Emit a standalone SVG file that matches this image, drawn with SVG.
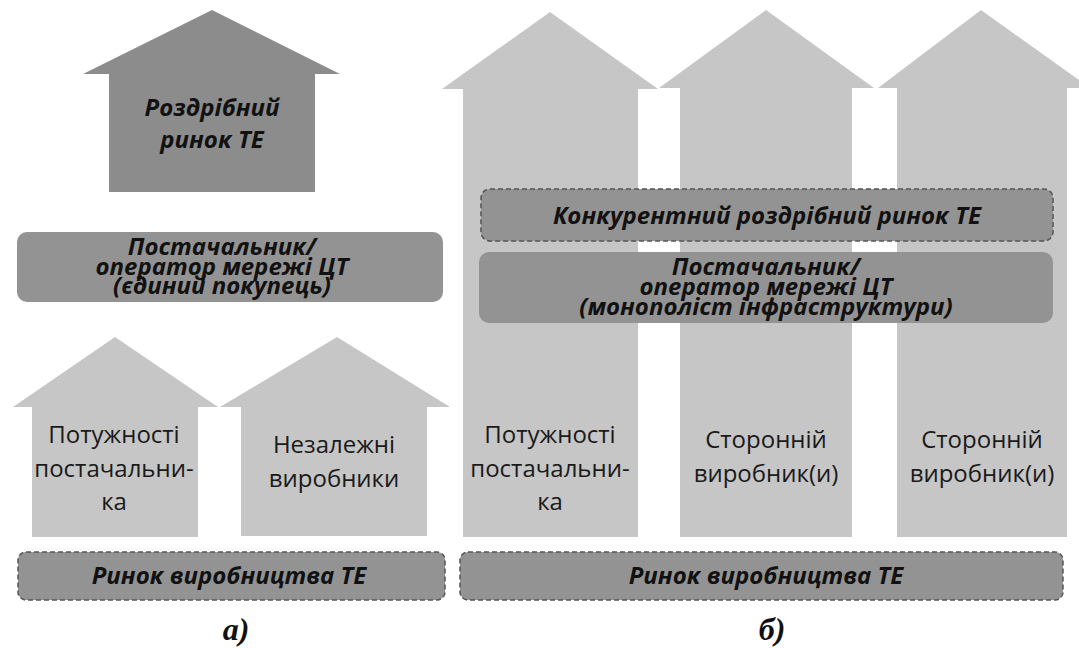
<svg xmlns="http://www.w3.org/2000/svg" width="1079" height="648" viewBox="0 0 1079 648">
<style>
.light{fill:#c6c6c6}
.dark{fill:#8c8c8c}
.box{fill:#939393}
.dbox{fill:#939393;stroke:#555;stroke-width:1.5;stroke-dasharray:5,3}
.bi{font-family:"Open Sans","Liberation Sans",sans-serif;font-weight:bold;font-style:italic;font-size:24px;fill:#111;text-anchor:middle}
.rg{font-family:"Open Sans","Liberation Sans",sans-serif;font-size:24px;fill:#1a1a1a;text-anchor:middle}
.lbl{font-family:"Liberation Serif",serif;font-weight:bold;font-style:italic;font-size:32px;fill:#111;text-anchor:middle}
</style>
<rect width="1079" height="648" fill="#fff"/>
<g id="retail-house-a">
<polygon class="dark" points="212,10 340,74 315,74 315,192 109,192 109,74 83,74"/>
<text class="bi" x="212" y="116">Роздрібний</text>
<text class="bi" x="212" y="148">ринок ТЕ</text>
</g>
<g id="supplier-a">
<rect class="box" x="17" y="232" width="426" height="70" rx="10"/>
<text class="bi" x="222" y="255">Постачальник/</text>
<text class="bi" x="222" y="275">оператор мережі ЦТ</text>
<text class="bi" x="222" y="294">(єдиний покупець)</text>
</g>
<g id="own-capacity-a">
<polygon class="light" points="115,337 218,407 198,407 198,537 32,537 32,407 13,407"/>
<text class="rg" x="114" y="443">Потужності</text>
<text class="rg" x="114" y="477">постачальни-</text>
<text class="rg" x="114" y="510">ка</text>
</g>
<g id="independent-a">
<polygon class="light" points="337,337 450,407 427,407 427,536 241,536 241,407 220,407"/>
<text class="rg" x="334" y="453">Незалежні</text>
<text class="rg" x="334" y="487">виробники</text>
</g>
<g id="gen-market-a">
<rect class="dbox" x="18" y="552" width="427" height="48" rx="8"/>
<text class="bi" x="229" y="584">Ринок виробництва ТЕ</text>
</g>
<g id="arrow-own-b">
<polygon class="light" points="550,12 658,89 638,89 638,537 463,537 463,89 442,89"/>
<text class="rg" x="550" y="443">Потужності</text>
<text class="rg" x="550" y="477">постачальни-</text>
<text class="rg" x="550" y="510">ка</text>
</g>
<g id="arrow-third1-b">
<polygon class="light" points="766,10 874,88 852,88 852,537 680,537 680,88 659,88"/>
<text class="rg" x="766" y="448">Сторонній</text>
<text class="rg" x="766" y="482">виробник(и)</text>
</g>
<g id="arrow-third2-b">
<polygon class="light" points="981,10 1079,80 1079,88 1067,88 1067,537 897,537 897,88 878,88"/>
<text class="rg" x="982" y="448">Сторонній</text>
<text class="rg" x="982" y="482">виробник(и)</text>
</g>
<g id="retail-market-b">
<rect class="dbox" x="481" y="189" width="572" height="52" rx="9"/>
<text class="bi" x="767" y="224">Конкурентний роздрібний ринок ТЕ</text>
</g>
<g id="supplier-b">
<rect class="box" x="479" y="252" width="574" height="71" rx="10"/>
<text class="bi" x="766" y="275">Постачальник/</text>
<text class="bi" x="766" y="295">оператор мережі ЦТ</text>
<text class="bi" x="766" y="315">(монополіст інфраструктури)</text>
</g>
<g id="gen-market-b">
<rect class="dbox" x="460" y="552" width="603" height="48" rx="8"/>
<text class="bi" x="766" y="584">Ринок виробництва ТЕ</text>
</g>
<g id="connectors"></g>
<text class="lbl" x="236" y="640">а)</text>
<text class="lbl" x="772" y="640">б)</text>
</svg>
